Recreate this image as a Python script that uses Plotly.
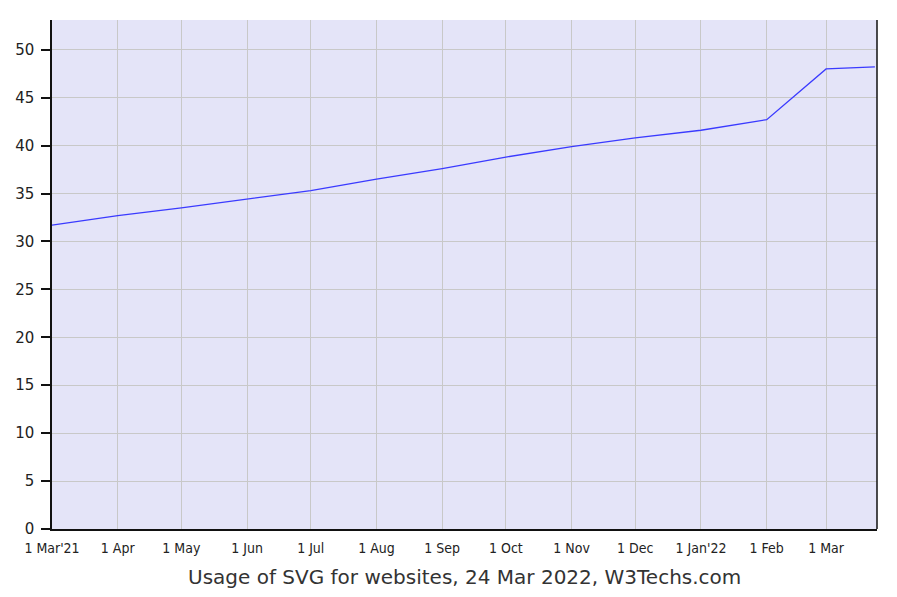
import plotly.graph_objects as go

dates = ["2021-03-01", "2021-04-01", "2021-05-01", "2021-06-01", "2021-07-01",
         "2021-08-01", "2021-09-01", "2021-10-01", "2021-11-01", "2021-12-01",
         "2022-01-01", "2022-02-01", "2022-03-01", "2022-03-24"]
usage = [31.7, 32.7, 33.5, 34.4, 35.3, 36.5, 37.6, 38.8, 39.9, 40.8,
         41.6, 42.7, 48.0, 48.2]

tick_dates = ["2021-03-01", "2021-04-01", "2021-05-01", "2021-06-01", "2021-07-01",
              "2021-08-01", "2021-09-01", "2021-10-01", "2021-11-01", "2021-12-01",
              "2022-01-01", "2022-02-01", "2022-03-01"]
tick_labels = ["1 Mar'21", "1 Apr", "1 May", "1 Jun", "1 Jul", "1 Aug", "1 Sep",
               "1 Oct", "1 Nov", "1 Dec", "1 Jan'22", "1 Feb", "1 Mar"]
y_ticks = [0, 5, 10, 15, 20, 25, 30, 35, 40, 45, 50]

tick_font = dict(family="DejaVu Sans Condensed, Liberation Sans Narrow, Arial Narrow, DejaVu Sans",
                 size=14, color="#222222")

fig = go.Figure()
fig.add_trace(go.Scatter(x=dates, y=usage, mode="lines",
                         line=dict(color="#3a3aff", width=1.3),
                         hoverinfo="x+y"))

fig.update_layout(
    width=897, height=597,
    margin=dict(l=44, r=28, t=12, b=76),
    paper_bgcolor="white",
    plot_bgcolor="#e4e4f8",
    showlegend=False,
    xaxis=dict(
        range=["2021-03-01", "2022-03-25"],
        tickmode="array", tickvals=tick_dates, ticktext=tick_labels,
        showgrid=True, gridcolor="#c8c8c8", gridwidth=1.2,
        showline=True, linecolor="#111111", linewidth=1.5,
        ticks="", tickfont=tick_font, ticklabelstandoff=5, zeroline=False,
        automargin=False,
    ),
    yaxis=dict(
        range=[0, 53.1],
        tickmode="array", tickvals=y_ticks,
        showgrid=True, gridcolor="#c8c8c8", gridwidth=1.2,
        showline=True, linecolor="#111111", linewidth=1.5,
        ticks="outside", ticklen=9, tickcolor="#111111", tickwidth=1.5,
        ticklabelstandoff=4,
        tickfont=dict(family="DejaVu Sans, Verdana", size=15, color="#222222"),
        zeroline=False, automargin=False,
    ),
    shapes=[dict(type="line", xref="paper", yref="paper", x0=1, x1=1, y0=0, y1=1,
                 line=dict(color="#111111", width=1.5))],
    annotations=[dict(text="Usage of SVG for websites, 24 Mar 2022, W3Techs.com",
                      xref="paper", yref="paper", x=0.5, y=0, yshift=-48,
                      xanchor="center", yanchor="middle", showarrow=False,
                      font=dict(family="DejaVu Sans, Verdana", size=20, color="#333333"))],
)

fig.write_html("out.html")
